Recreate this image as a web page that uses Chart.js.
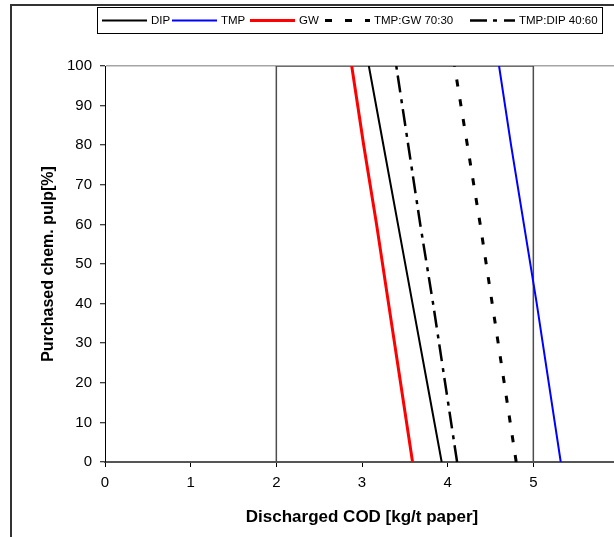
<!DOCTYPE html>
<html>
<head>
<meta charset="utf-8">
<script src="https://cdn.jsdelivr.net/npm/chart.js@4.4.0/dist/chart.umd.min.js"></script>
<style>
  html, body { margin: 0; padding: 0; background: #fff; overflow: hidden; }
  #wrap { width: 640px; height: 537px; }
</style>
</head>
<body>
<div id="wrap"><canvas id="codChart" width="640" height="537"></canvas></div>
<script>
// purchased chemical pulp share [%] (y) vs discharged COD [kg/t paper] (x)
const pulpShare = [0, 20, 40, 60, 80, 100];
const codDIP    = [3.93, 3.76, 3.59, 3.42, 3.25, 3.08];
const codTMP    = [5.32, 5.18, 5.04, 4.89, 4.74, 4.60];
const codGW     = [3.59, 3.45, 3.31, 3.17, 3.02, 2.88];
const codTmpGw  = [4.80, 4.66, 4.52, 4.38, 4.23, 4.08];
const codTmpDip = [4.11, 3.97, 3.83, 3.68, 3.54, 3.40];

// the rectangle marked between 2 and 5 kg/t
const boxX = [2, 2, 5, 5];
const boxY = [0, 100, 100, 0];

const seriesNames = ['DIP', 'TMP', 'GW', 'TMP:GW 70:30', 'TMP:DIP 40:60'];
const xTicks = [0, 1, 2, 3, 4, 5, 6];
const yTicks = [0, 10, 20, 30, 40, 50, 60, 70, 80, 90, 100];

const seriesX = [codDIP, codTMP, codGW, codTmpGw, codTmpDip];
const colors = ['#000000', '#0000ff', '#ff0000', '#000000', '#000000'];
const widths = [2, 2, 3, 3, 2.5];
const dashes = [[], [], [], [7, 13], [17, 6, 4, 7]];

const toPoints = (xs, ys) => xs.map((x, i) => ({ x: x, y: ys[i] }));

const datasets = seriesNames.map((name, i) => ({
  label: name,
  data: toPoints(seriesX[i], pulpShare),
  borderColor: colors[i],
  borderWidth: widths[i],
  borderDash: dashes[i],
  pointRadius: 0,
  tension: 0
}));
// drawn last in the list so it sits under the curves
datasets.push({
  label: 'box',
  data: toPoints(boxX, boxY),
  borderColor: '#4d4d4d',
  borderWidth: 1.5,
  pointRadius: 0,
  tension: 0
});

const FONT = 'Liberation Sans, Arial, sans-serif';
Chart.defaults.font.family = FONT;
Chart.defaults.color = '#000';

// page frame round the chart
const framePlugin = {
  id: 'frame',
  beforeDraw(chart) {
    const ctx = chart.ctx;
    ctx.save();
    ctx.strokeStyle = '#333';
    ctx.lineWidth = 2;
    ctx.beginPath();
    ctx.moveTo(11, chart.height + 5);
    ctx.lineTo(11, 5);
    ctx.lineTo(chart.width + 5, 5);
    ctx.stroke();
    ctx.restore();
  }
};

// excel style legend in a box at the top, entries start at fixed columns
const legendCols = [102, 172, 250, 325, 470];
const legendBox = {
  id: 'legendBox',
  afterDraw(chart) {
    const ctx = chart.ctx;
    ctx.save();
    ctx.strokeStyle = '#000';
    ctx.lineWidth = 1;
    ctx.strokeRect(97.5, 7.5, 505, 26);
    ctx.font = '11.5px ' + FONT;
    ctx.textBaseline = 'middle';
    ctx.fillStyle = '#000';
    const y = 20.5;
    let n = 0;
    chart.data.datasets.forEach(ds => {
      if (!seriesNames.includes(ds.label)) return;
      const x = legendCols[n++];
      ctx.strokeStyle = ds.borderColor;
      ctx.lineWidth = ds.borderWidth;
      ctx.setLineDash(ds.borderDash);
      ctx.beginPath();
      ctx.moveTo(x, y);
      ctx.lineTo(x + 45, y);
      ctx.stroke();
      ctx.setLineDash([]);
      ctx.fillText(ds.label, x + 49, y);
    });
    ctx.restore();
  }
};

new Chart(document.getElementById('codChart'), {
  type: 'line',
  data: { datasets: datasets },
  options: {
    responsive: false,
    animation: false,
    events: [],
    layout: { padding: { top: 66, left: 0, right: 21, bottom: 0 } },
    plugins: { legend: { display: false }, tooltip: { enabled: false } },
    scales: {
      x: {
        type: 'linear',
        min: 0,
        max: 6,
        afterBuildTicks: s => { s.ticks = xTicks.map(v => ({ value: v })); },
        afterFit: s => { s.height = 75; },
        border: { color: '#555', width: 2 },
        grid: { drawOnChartArea: false, tickLength: 5, tickColor: '#000', tickWidth: 1 },
        ticks: { font: { size: 15 }, padding: 7, maxRotation: 0 },
        title: {
          display: true,
          text: 'Discharged COD [kg/t paper]',
          font: { size: 17, weight: 'bold' },
          padding: { top: 0, bottom: 9.8 }
        }
      },
      y: {
        type: 'linear',
        min: 0,
        max: 100,
        afterBuildTicks: s => { s.ticks = yTicks.map(v => ({ value: v })); },
        afterFit: s => { s.width = 105; },
        border: { color: '#000', width: 1 },
        grid: {
          color: c => (c.tick && c.tick.value === 100 ? '#a6a6a6' : 'rgba(0,0,0,0)'),
          lineWidth: 1.5,
          tickLength: 5,
          tickColor: '#000',
          tickWidth: 1
        },
        ticks: { font: { size: 15 }, padding: 8 },
        title: {
          display: true,
          text: 'Purchased chem. pulp[%]',
          font: { size: 16, weight: 'bold' },
          padding: { top: 39, bottom: 0 }
        }
      }
    }
  },
  plugins: [framePlugin, legendBox]
});
</script>
</body>
</html>
